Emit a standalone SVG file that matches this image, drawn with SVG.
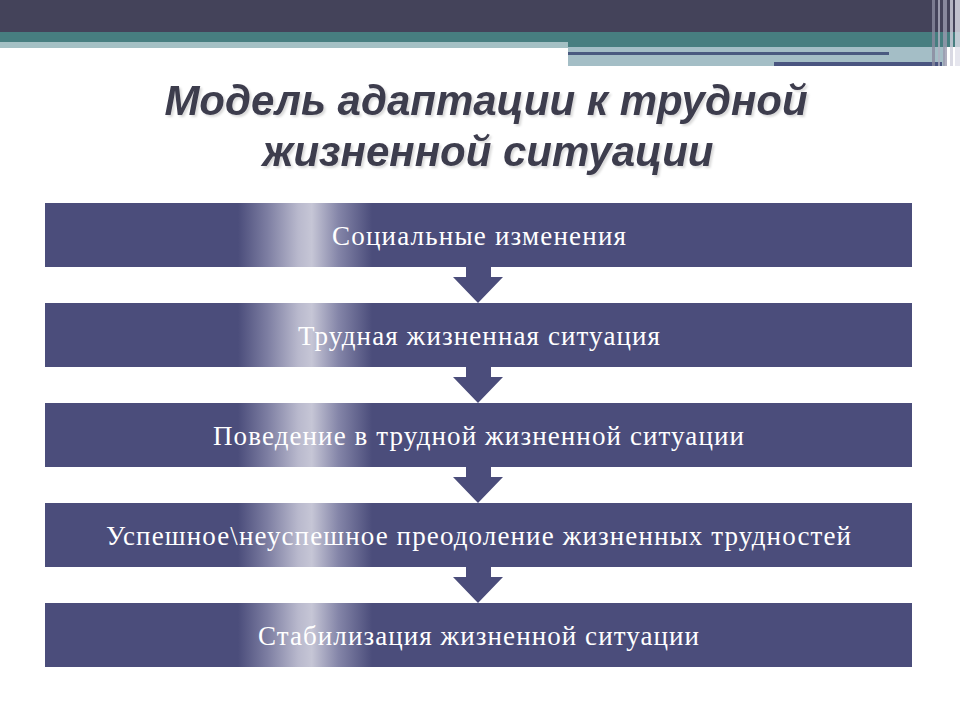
<svg xmlns="http://www.w3.org/2000/svg" width="960" height="720" viewBox="0 0 960 720">
<defs>
<linearGradient id="shine" gradientUnits="userSpaceOnUse" x1="238" y1="0" x2="372" y2="0">
<stop offset="0" stop-color="#4b4d7b"/>
<stop offset="0.22" stop-color="#7d7ea2"/>
<stop offset="0.45" stop-color="#b9b9cd"/>
<stop offset="0.55" stop-color="#c6c6d6"/>
<stop offset="0.75" stop-color="#8485a8"/>
<stop offset="1" stop-color="#4b4d7b"/>
</linearGradient>
<filter id="shadow" x="-5%" y="-20%" width="110%" height="140%">
<feDropShadow dx="2" dy="2" stdDeviation="1" flood-color="#000000" flood-opacity="0.15"/>
</filter>
<style>
.box{fill:url(#shine);}
.lbl{font-family:"Liberation Serif","Times New Roman",serif;font-size:27px;fill:#ffffff;text-anchor:middle;}
.ttl{font-family:"Liberation Sans",Arial,sans-serif;font-size:42px;font-weight:bold;font-style:italic;text-anchor:middle;fill:#3d3c4d;}
.arr{fill:#4b4d7b;}
</style>
</defs>
<rect width="960" height="720" fill="#ffffff"/>
<g id="header">
<rect x="0" y="0" width="960" height="32" fill="#44435a"/>
<rect x="0" y="32" width="960" height="15" fill="#477e80"/>
<rect x="0" y="42" width="568" height="6" fill="#a4c0c4"/>
<rect x="568" y="47" width="377" height="19" fill="#a4bec6"/>
<rect x="568" y="52" width="321" height="3" fill="#4a5a80"/>
<rect x="774" y="62" width="168" height="4" fill="#4a5580"/>
<rect x="932" y="0" width="3" height="66" fill="#8a8a9e" opacity="0.8"/>
<rect x="938" y="0" width="2" height="66" fill="#b0b0c0" opacity="0.8"/>
<rect x="943" y="0" width="4" height="66" fill="#9a9aae" opacity="0.8"/>
<rect x="950" y="0" width="3" height="66" fill="#d0d0dc" opacity="0.8"/>
<rect x="955" y="0" width="5" height="66" fill="#e0e0ea" opacity="0.8"/>
</g>
<g id="title" filter="url(#shadow)">
<text class="ttl" x="486" y="115">Модель адаптации к трудной</text>
<text class="ttl" x="488" y="166">жизненной ситуации</text>
</g>
<g id="connectors">
<path class="arr" d="M466,267 H491 V277 H503 L478,303 L453,277 H466 Z"/>
<path class="arr" d="M466,367 H491 V377 H503 L478,403 L453,377 H466 Z"/>
<path class="arr" d="M466,467 H491 V477 H503 L478,503 L453,477 H466 Z"/>
<path class="arr" d="M466,567 H491 V577 H503 L478,603 L453,577 H466 Z"/>
</g>
<g id="node1"><rect class="box" x="45" y="203" width="867" height="64"/><text class="lbl" x="479" y="245" textLength="294" lengthAdjust="spacing">Социальные изменения</text></g>
<g id="node2"><rect class="box" x="45" y="303" width="867" height="64"/><text class="lbl" x="479" y="345" textLength="362" lengthAdjust="spacing">Трудная жизненная ситуация</text></g>
<g id="node3"><rect class="box" x="45" y="403" width="867" height="64"/><text class="lbl" x="478.5" y="445" textLength="531" lengthAdjust="spacing">Поведение в трудной жизненной ситуации</text></g>
<g id="node4"><rect class="box" x="45" y="503" width="867" height="64"/><text class="lbl" x="478.5" y="545" textLength="745" lengthAdjust="spacing">Успешное\неуспешное преодоление жизненных трудностей</text></g>
<g id="node5"><rect class="box" x="45" y="603" width="867" height="64"/><text class="lbl" x="478.5" y="645" textLength="441" lengthAdjust="spacing">Стабилизация жизненной ситуации</text></g>
</svg>
